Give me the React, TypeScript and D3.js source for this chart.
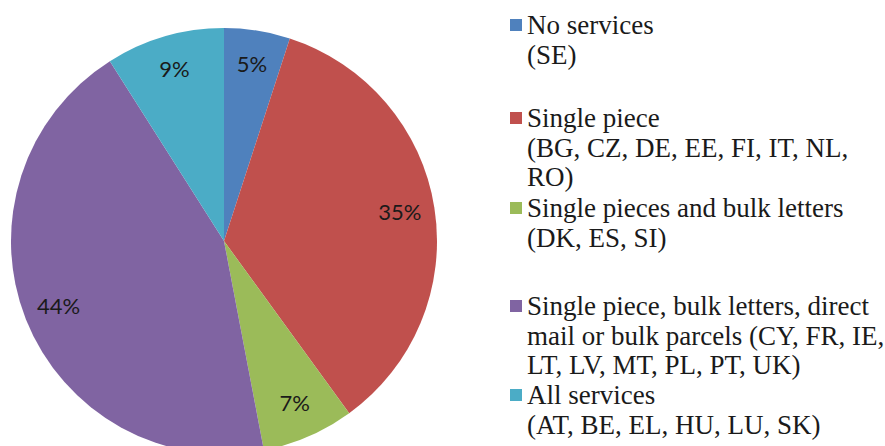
import React from "react";
import * as d3 from "d3";

const categories = [
  "No services",
  "Single piece",
  "Single pieces and bulk letters",
  "Single piece, bulk letters, direct mail or bulk parcels",
  "All services",
];
const values = [5, 35, 7, 44, 9];
const colors = ["#4F81BD", "#C0504D", "#9BBB59", "#8064A2", "#4BACC6"];
const legendLines = [
  ["No services", "(SE)"],
  ["Single piece", "(BG, CZ, DE, EE, FI, IT, NL,", "RO)"],
  ["Single pieces and bulk letters", "(DK, ES, SI)"],
  ["Single piece, bulk letters, direct", "mail or bulk parcels (CY, FR, IE,", "LT, LV, MT, PL, PT, UK)"],
  ["All services", "(AT, BE, EL, HU, LU, SK)"],
];
const legendBase = [34, 127, 217, 315, 404];

const W = 885;
const H = 446;
const cx = 224;
const cy = 241;
const R = 213;
const lineH = 29.5;

export default function App() {
  React.useEffect(() => {
    document.body.style.margin = "0";
  }, []);
  const pie = d3.pie<number>().sort(null).value((d) => d)(values);
  const arc = d3.arc<d3.PieArcDatum<number>>().innerRadius(0).outerRadius(R);
  const labelArc = d3.arc<d3.PieArcDatum<number>>().innerRadius(178).outerRadius(178);
  const total = d3.sum(values);
  return (
    <svg width={W} height={H} style={{ display: "block", background: "#fff" }}>
      <g transform={`translate(${cx},${cy})`}>
        {pie.map((p, i) => (
          <path key={categories[i]} d={arc(p) || ""} fill={colors[i]} />
        ))}
        {pie.map((p, i) => {
          const [x, y] = labelArc.centroid(p);
          return (
            <text
              key={"l" + i}
              x={x}
              y={y + 7}
              textAnchor="middle"
              style={{ fontFamily: "Lato" }}
              fontSize={22}
              fill="#1a1a1a"
            >
              {Math.round((values[i] / total) * 100) + "%"}
            </text>
          );
        })}
      </g>
      <g>
        {legendLines.map((lines, i) => (
          <g key={"lg" + i}>
            <rect x={510} y={legendBase[i] - 15} width={12} height={12} fill={colors[i]} />
            {lines.map((t, j) => (
              <text
                key={j}
                x={527}
                y={legendBase[i] + j * lineH}
                style={{ fontFamily: "Liberation Serif" }}
                fontSize={27}
                fill="#1a1a1a"
              >
                {t}
              </text>
            ))}
          </g>
        ))}
      </g>
    </svg>
  );
}
